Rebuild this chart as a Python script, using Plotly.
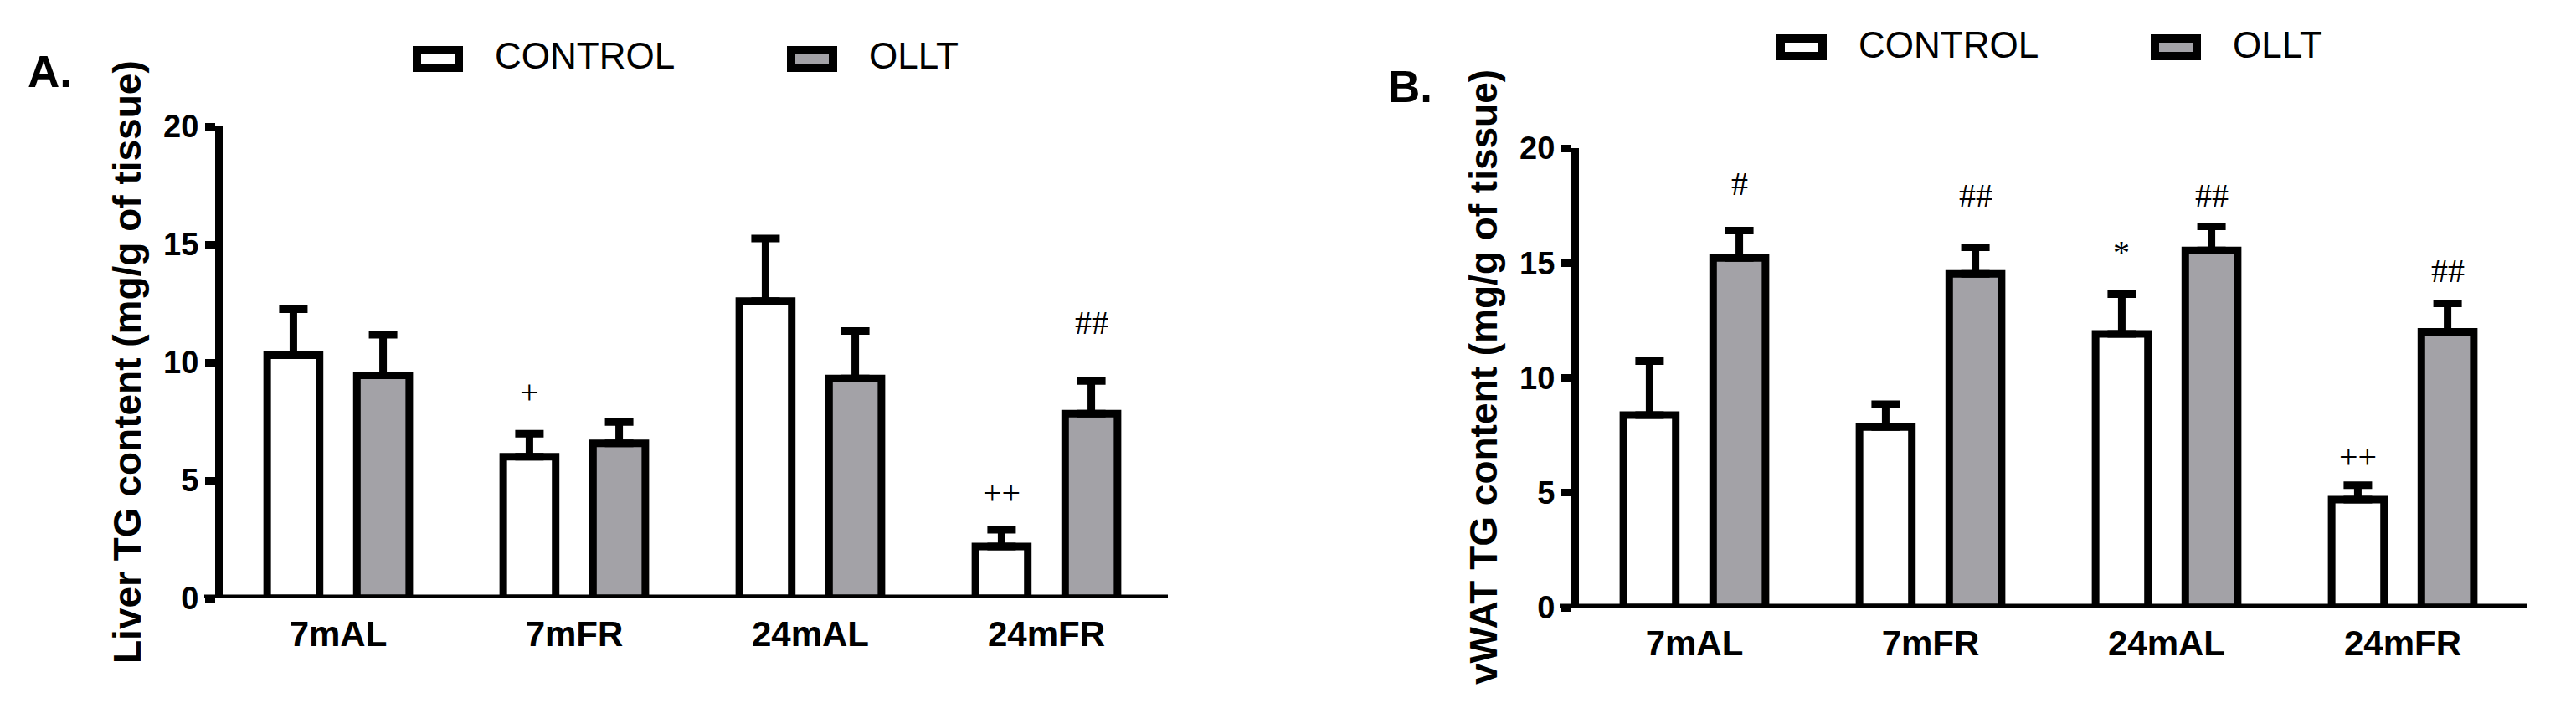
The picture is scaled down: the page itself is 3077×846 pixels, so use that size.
import plotly.graph_objects as go

# page is 3077x846; the html body has an 8px margin, so the figure is 16px smaller
PAGE_W, PAGE_H = 3077, 846
BODY = 8
W, H = PAGE_W - 2 * BODY, PAGE_H - 2 * BODY

categories = ["7mAL", "7mFR", "24mAL", "24mFR"]
series_names = ["CONTROL", "OLLT"]

# Panel A: Liver TG content (mg/g of tissue)
liver_control_mean = [10.3, 6.0, 12.6, 2.2]
liver_control_sd = [1.95, 0.98, 2.65, 0.71]
liver_ollt_mean = [9.45, 6.57, 9.32, 7.83]
liver_ollt_sd = [1.72, 0.90, 2.01, 1.38]
liver_control_marks = ["", "+", "", "++"]
liver_control_mark_y = [None, 8.74, None, 4.5]
liver_ollt_marks = ["", "", "", "##"]
liver_ollt_mark_y = [None, None, None, 11.67]

# Panel B: vWAT TG content (mg/g of tissue)
vwat_control_mean = [8.38, 7.86, 11.91, 4.7]
vwat_control_sd = [2.35, 0.99, 1.73, 0.63]
vwat_ollt_mean = [15.22, 14.53, 15.55, 12.0]
vwat_ollt_sd = [1.19, 1.15, 1.04, 1.24]
vwat_control_marks = ["", "", "*", "++"]
vwat_control_mark_y = [None, None, 15.45, 6.57]
vwat_ollt_marks = ["#", "##", "##", "##"]
vwat_ollt_mark_y = [18.46, 17.93, 17.93, 14.65]

y_ticks = [0, 5, 10, 15, 20]

GRAY = "#a3a2a7"
LW = 9
SANS = "Liberation Sans, Arial, sans-serif"
SERIF = "Liberation Serif, Times New Roman, serif"


def px(x):
    return (x - BODY) / W


def py(y):
    return 1 - (y - BODY) / H


fig = go.Figure()

panels = [
    dict(x="x", y="y", ctrl=(liver_control_mean, liver_control_sd),
         ollt=(liver_ollt_mean, liver_ollt_sd)),
    dict(x="x2", y="y2", ctrl=(vwat_control_mean, vwat_control_sd),
         ollt=(vwat_ollt_mean, vwat_ollt_sd)),
]

for p in panels:
    for name, (mean, sd), fill in [("CONTROL", p["ctrl"], "white"), ("OLLT", p["ollt"], GRAY)]:
        fig.add_trace(go.Bar(
            x=categories, y=mean, name=name, xaxis=p["x"], yaxis=p["y"],
            marker=dict(color=fill, line=dict(color="black", width=LW)),
            error_y=dict(type="data", symmetric=False, array=sd, arrayminus=[0] * len(sd),
                         color="black", thickness=LW, width=17),
            showlegend=False,
        ))

axis_common_x = dict(showgrid=False, zeroline=False, showline=False, ticks="",
                     automargin=False, ticklabelstandoff=14,
                     tickfont=dict(family=SANS, size=42, color="black", weight="bold"),
                     fixedrange=True)
axis_common_y = dict(showgrid=False, zeroline=False, showline=True, linewidth=LW, linecolor="black",
                     ticks="outside", ticklen=12, tickwidth=LW, tickcolor="black",
                     tickvals=y_ticks, range=[0, 20], automargin=False,
                     tickfont=dict(family=SANS, size=38, color="black", weight="bold"),
                     fixedrange=True)

fig.update_layout(
    width=W, height=H,
    margin=dict(l=0, r=0, t=0, b=0, pad=0, autoexpand=False),
    paper_bgcolor="white", plot_bgcolor="white",
    barmode="group", bargap=0.24, bargroupgap=0.416,
    xaxis=dict(domain=[px(244), px(1395)], range=[-0.5674, 3.5142], anchor="y", **axis_common_x),
    yaxis=dict(domain=[py(715), py(151)], anchor="free", position=px(261), **axis_common_y),
    xaxis2=dict(domain=[px(1863), px(3018)], range=[-0.5709, 3.5248], anchor="y2", **axis_common_x),
    yaxis2=dict(domain=[py(726), py(177)], anchor="free", position=px(1881), **axis_common_y),
)

# x axis baselines (Prism style, starting at the tick start of the y axis)
for xr, yr in [("x domain", "y"), ("x2 domain", "y2")]:
    fig.add_shape(type="line", xref=xr, yref=yr, x0=0, x1=1, y0=0, y1=0,
                  line=dict(color="black", width=LW), layer="above")

# significance marks
OFF = 0.19
mark_sets = [
    ("x", "y", liver_control_marks, liver_control_mark_y, -OFF),
    ("x", "y", liver_ollt_marks, liver_ollt_mark_y, OFF),
    ("x2", "y2", vwat_control_marks, vwat_control_mark_y, -OFF),
    ("x2", "y2", vwat_ollt_marks, vwat_ollt_mark_y, OFF),
]
for xr, yr, marks, ys, off in mark_sets:
    for i, (m, yv) in enumerate(zip(marks, ys)):
        if m:
            fig.add_annotation(x=i + off, y=yv, xref=xr, yref=yr, text=m, showarrow=False,
                               xanchor="center", yanchor="middle",
                               font=dict(family=SERIF, size=40, color="black"))

# axis titles
for xc, yc, t in [(152, 433, "Liver TG content (mg/g of tissue)"),
                  (1772, 451, "vWAT TG content (mg/g of tissue)")]:
    fig.add_annotation(x=px(xc), y=py(yc), xref="paper", yref="paper", text=t, textangle=-90,
                       showarrow=False, xanchor="center", yanchor="middle",
                       font=dict(family=SANS, size=46, color="black", weight="bold"))

# panel letters
for xl, yt, t in [(33, 62, "A."), (1658, 80, "B.")]:
    fig.add_annotation(x=px(xl - 2), y=py(yt - 8), xref="paper", yref="paper", text=t,
                       showarrow=False, xanchor="left", yanchor="top",
                       font=dict(family=SANS, size=53, color="black", weight="bold"))

# legends (boxes + labels)
legends = [
    (493, 940, 55),
    (2122, 2569, 41),
]
for xc, xo, ytop in legends:
    for bx, fill, label in [(xc, "white", series_names[0]), (xo, GRAY, series_names[1])]:
        fig.add_shape(type="rect", xref="paper", yref="paper",
                      x0=px(bx + 5), x1=px(bx + 55), y0=py(ytop + 5), y1=py(ytop + 26),
                      line=dict(color="black", width=10), fillcolor=fill)
        fig.add_annotation(x=px(bx + 96), y=py(ytop + 12), xref="paper", yref="paper", text=label,
                           showarrow=False, xanchor="left", yanchor="middle",
                           font=dict(family=SANS, size=44, color="black"))

fig.write_html("out.html")
